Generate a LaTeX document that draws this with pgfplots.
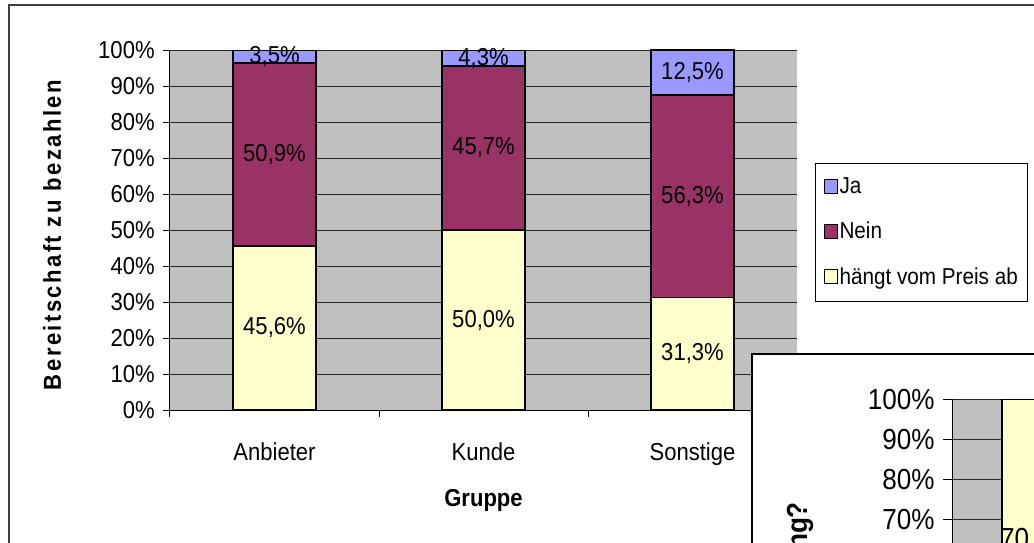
\documentclass[border=0pt]{standalone}
\usepackage{fontspec}
\setmainfont{Liberation Sans}[FakeStretch=0.9]
\usepackage{pgfplots}
\usepackage{pgfplotstable}
\pgfplotsset{compat=1.18}

\definecolor{xlblue}{HTML}{9999FF}
\definecolor{xlplum}{HTML}{993366}
\definecolor{xlcream}{HTML}{FFFFCC}
\definecolor{xlgrey}{HTML}{C0C0C0}

% Anteile je Gruppe (Prozent)
\pgfplotstableread{
x ja nein preis
0 3.5 50.9 45.6
1 4.3 45.7 50.0
2 12.5 56.3 31.3
}\gruppen

% zweites, angeschnittenes Diagramm
\pgfplotstableread{
x unten oben
0 30.0 70.0
}\zweite

\pgfplotsset{
  seg/.style={fill=#1, draw=black, line width=1.5pt},
  % Beschriftung mitten im Segment, #1 = Schrift
  pctlabel/.style={
    point meta=explicit,
    nodes near coords={\pgfmathprintnumber[fixed,fixed zerofill,precision=1,use comma,assume math mode=true]{\pgfplotspointmeta}\%},
    every node near coord/.style={anchor=center, text=black, font=#1},
  },
  xlchart/.style={
    scale only axis, ybar stacked,
    xmin=-0.5, xmax=2.5, ymin=0, ymax=100.1,
    ytick={0,10,...,100},
    yticklabel={\pgfmathprintnumber[assume math mode=true]{\tick}\%},
    axis x line*=bottom, axis y line*=left,
    axis line style={-, black, line width=1pt},
    tick style={black, line width=1pt},
    tick align=outside,
    ymajorgrids, grid style={black!85, line width=1pt},
    axis background/.style={fill=xlgrey},
  },
}

\begin{document}
\fontsize{24.5}{29}\selectfont
\begin{tikzpicture}
\fill[white] (0,0) rectangle (1034pt,542pt);
\begin{scope}
\clip (0,0) rectangle (1034pt,542pt);
\draw[black!75, line width=1.5pt] (9pt,-50pt) -- (9pt,537pt) -- (1100pt,537pt);

\begin{axis}[
  xlchart,
  at={(170pt,132pt)}, anchor=south west,
  width=627pt, height=360pt,
  bar width=83pt,
  major tick length=7pt,
  xtick={-0.5,0.5,1.5,2.5},
  xticklabels={Anbieter,Kunde,Sonstige},
  x tick label as interval,
  xticklabel style={yshift=-17pt},
  xlabel={\bfseries Gruppe},
  xlabel style={at={(axis description cs:0.5,-0.25)}, anchor=center},
  ylabel={\bfseries\addfontfeature{LetterSpace=10}Bereitschaft zu bezahlen},
  ylabel style={at={(axis description cs:-0.188,0.486)}, anchor=center},
  legend style={at={(axis description cs:1.0287,0.686)}, anchor=north west,
    draw=black, line width=1pt, fill=white, row sep=21pt,
    inner xsep=8pt, inner ysep=12pt, font=\fontsize{23}{27}\selectfont},
  legend cell align=left,
  reverse legend,
  legend image code/.code={\draw[#1, line width=1pt] (0pt,-6pt) rectangle (13pt,8pt);},
]
\addplot[seg=xlcream, pctlabel={\fontsize{24.5}{29}\selectfont}] table[x=x, y=preis, meta=preis] {\gruppen};
\addplot[seg=xlplum, pctlabel={\fontsize{24.5}{29}\selectfont}] table[x=x, y=nein, meta=nein] {\gruppen};
\addplot[seg=xlblue, pctlabel={\fontsize{24.5}{29}\selectfont}] table[x=x, y=ja, meta=ja] {\gruppen};
\legend{hängt vom Preis ab, Nein, Ja}
\end{axis}

\filldraw[fill=white, draw=black, line width=1.5pt] (752pt,-100pt) rectangle (1100pt,188pt);

\begin{axis}[
  xlchart,
  at={(952pt,-259pt)}, anchor=south west,
  width=510pt, height=402pt,
  bar width=70pt,
  major tick length=9pt,
  xtick=\empty,
  yticklabel style={font=\fontsize{29}{34}\selectfont},
  ylabel={\bfseries ng?},
  ylabel style={font=\fontsize{29}{34}\selectfont, inner sep=0pt,
    at={(axis description cs:-0.284,0.744)}, anchor=base east},
]
\addplot[seg=xlplum] table[x=x, y=unten] {\zweite};
\addplot[seg=xlcream, pctlabel={\fontsize{29}{34}\selectfont}] table[x=x, y=oben, meta=oben] {\zweite};
\end{axis}
\end{scope}
\pgfresetboundingbox
\useasboundingbox (0,0) rectangle (1034pt,542pt);
\end{tikzpicture}
\end{document}
